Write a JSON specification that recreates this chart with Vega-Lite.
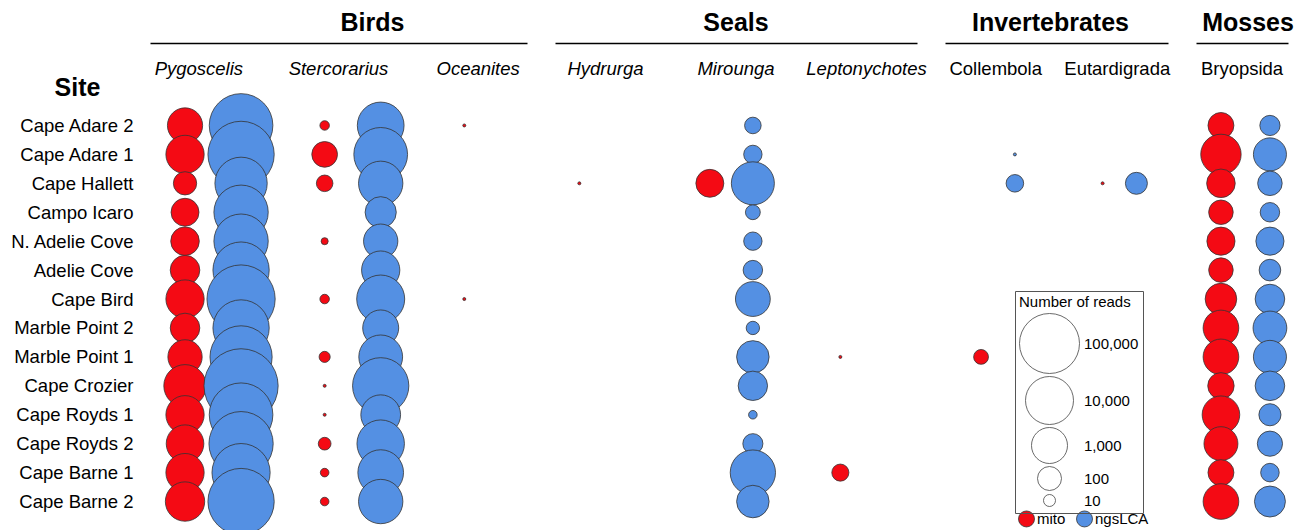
{
  "$schema": "https://vega.github.io/schema/vega-lite/v6.json",
  "background": "white",
  "padding": {"left": 9, "top": 11, "right": 0, "bottom": 0},
  "bounds": "flush",
  "config": {
    "font": "Liberation Sans",
    "view": {"stroke": null},
    "concat": {"spacing": 28},
    "title": {"fontSize": 25, "fontWeight": "bold", "color": "black", "offset": 7, "anchor": "middle"},
    "axisX": {"orient": "top", "offset": 68, "title": null, "domainColor": "black", "domainWidth": 1.5, "ticks": false, "labelPadding": -25, "labelBaseline": "middle", "labelFontSize": 18.5, "labelColor": "black", "labelAngle": 0, "grid": false},
    "circle": {"opacity": 1, "stroke": "#333", "strokeWidth": 0.8}
  },
  "datasets": {
    "reads": [
      {"site": "Cape Adare 2", "group": "Birds", "taxon": "Pygoscelis", "source": "mito", "reads": 830},
      {"site": "Cape Adare 2", "group": "Birds", "taxon": "Pygoscelis", "source": "ngsLCA", "reads": 192000},
      {"site": "Cape Adare 2", "group": "Birds", "taxon": "Stercorarius", "source": "mito", "reads": 4},
      {"site": "Cape Adare 2", "group": "Birds", "taxon": "Stercorarius", "source": "ngsLCA", "reads": 7640},
      {"site": "Cape Adare 2", "group": "Birds", "taxon": "Oceanites", "source": "mito", "reads": 1},
      {"site": "Cape Adare 2", "group": "Seals", "taxon": "Mirounga", "source": "ngsLCA", "reads": 20},
      {"site": "Cape Adare 2", "group": "Mosses", "taxon": "Bryopsida", "source": "mito", "reads": 136},
      {"site": "Cape Adare 2", "group": "Mosses", "taxon": "Bryopsida", "source": "ngsLCA", "reads": 41},

      {"site": "Cape Adare 1", "group": "Birds", "taxon": "Pygoscelis", "source": "mito", "reads": 1470},
      {"site": "Cape Adare 1", "group": "Birds", "taxon": "Pygoscelis", "source": "ngsLCA", "reads": 316000},
      {"site": "Cape Adare 1", "group": "Birds", "taxon": "Stercorarius", "source": "mito", "reads": 131},
      {"site": "Cape Adare 1", "group": "Birds", "taxon": "Stercorarius", "source": "ngsLCA", "reads": 28200},
      {"site": "Cape Adare 1", "group": "Seals", "taxon": "Mirounga", "source": "ngsLCA", "reads": 28},
      {"site": "Cape Adare 1", "group": "Invertebrates", "taxon": "Collembola", "source": "ngsLCA", "reads": 1},
      {"site": "Cape Adare 1", "group": "Mosses", "taxon": "Bryopsida", "source": "mito", "reads": 2150},
      {"site": "Cape Adare 1", "group": "Mosses", "taxon": "Bryopsida", "source": "ngsLCA", "reads": 521},

      {"site": "Cape Hallett", "group": "Birds", "taxon": "Pygoscelis", "source": "mito", "reads": 83},
      {"site": "Cape Hallett", "group": "Birds", "taxon": "Pygoscelis", "source": "ngsLCA", "reads": 21500},
      {"site": "Cape Hallett", "group": "Birds", "taxon": "Stercorarius", "source": "mito", "reads": 20},
      {"site": "Cape Hallett", "group": "Birds", "taxon": "Stercorarius", "source": "ngsLCA", "reads": 4640},
      {"site": "Cape Hallett", "group": "Seals", "taxon": "Hydrurga", "source": "mito", "reads": 1},
      {"site": "Cape Hallett", "group": "Seals", "taxon": "Mirounga", "source": "mito", "reads": 192},
      {"site": "Cape Hallett", "group": "Seals", "taxon": "Mirounga", "source": "ngsLCA", "reads": 3550},
      {"site": "Cape Hallett", "group": "Invertebrates", "taxon": "Collembola", "source": "ngsLCA", "reads": 24},
      {"site": "Cape Hallett", "group": "Invertebrates", "taxon": "Eutardigrada", "source": "mito", "reads": 1},
      {"site": "Cape Hallett", "group": "Invertebrates", "taxon": "Eutardigrada", "source": "ngsLCA", "reads": 61},
      {"site": "Cape Hallett", "group": "Mosses", "taxon": "Bryopsida", "source": "mito", "reads": 215},
      {"site": "Cape Hallett", "group": "Mosses", "taxon": "Bryopsida", "source": "ngsLCA", "reads": 108},

      {"site": "Campo Icaro", "group": "Birds", "taxon": "Pygoscelis", "source": "mito", "reads": 192},
      {"site": "Campo Icaro", "group": "Birds", "taxon": "Pygoscelis", "source": "ngsLCA", "reads": 31600},
      {"site": "Campo Icaro", "group": "Birds", "taxon": "Stercorarius", "source": "ngsLCA", "reads": 355},
      {"site": "Campo Icaro", "group": "Seals", "taxon": "Mirounga", "source": "ngsLCA", "reads": 15},
      {"site": "Campo Icaro", "group": "Mosses", "taxon": "Bryopsida", "source": "mito", "reads": 108},
      {"site": "Campo Icaro", "group": "Mosses", "taxon": "Bryopsida", "source": "ngsLCA", "reads": 35},

      {"site": "N. Adelie Cove", "group": "Birds", "taxon": "Pygoscelis", "source": "mito", "reads": 215},
      {"site": "N. Adelie Cove", "group": "Birds", "taxon": "Pygoscelis", "source": "ngsLCA", "reads": 31600},
      {"site": "N. Adelie Cove", "group": "Birds", "taxon": "Stercorarius", "source": "mito", "reads": 2},
      {"site": "N. Adelie Cove", "group": "Birds", "taxon": "Stercorarius", "source": "ngsLCA", "reads": 681},
      {"site": "N. Adelie Cove", "group": "Seals", "taxon": "Mirounga", "source": "ngsLCA", "reads": 28},
      {"site": "N. Adelie Cove", "group": "Mosses", "taxon": "Bryopsida", "source": "mito", "reads": 200},
      {"site": "N. Adelie Cove", "group": "Mosses", "taxon": "Bryopsida", "source": "ngsLCA", "reads": 200},

      {"site": "Adelie Cove", "group": "Birds", "taxon": "Pygoscelis", "source": "mito", "reads": 261},
      {"site": "Adelie Cove", "group": "Birds", "taxon": "Pygoscelis", "source": "ngsLCA", "reads": 46400},
      {"site": "Adelie Cove", "group": "Birds", "taxon": "Stercorarius", "source": "ngsLCA", "reads": 1470},
      {"site": "Adelie Cove", "group": "Seals", "taxon": "Mirounga", "source": "ngsLCA", "reads": 35},
      {"site": "Adelie Cove", "group": "Mosses", "taxon": "Bryopsida", "source": "mito", "reads": 108},
      {"site": "Adelie Cove", "group": "Mosses", "taxon": "Bryopsida", "source": "ngsLCA", "reads": 56},

      {"site": "Cape Bird", "group": "Birds", "taxon": "Pygoscelis", "source": "mito", "reads": 1470},
      {"site": "Cape Bird", "group": "Birds", "taxon": "Pygoscelis", "source": "ngsLCA", "reads": 464000},
      {"site": "Cape Bird", "group": "Birds", "taxon": "Stercorarius", "source": "mito", "reads": 4},
      {"site": "Cape Bird", "group": "Birds", "taxon": "Stercorarius", "source": "ngsLCA", "reads": 10000},
      {"site": "Cape Bird", "group": "Birds", "taxon": "Oceanites", "source": "mito", "reads": 1},
      {"site": "Cape Bird", "group": "Seals", "taxon": "Mirounga", "source": "ngsLCA", "reads": 764},
      {"site": "Cape Bird", "group": "Mosses", "taxon": "Bryopsida", "source": "mito", "reads": 383},
      {"site": "Cape Bird", "group": "Mosses", "taxon": "Bryopsida", "source": "ngsLCA", "reads": 261},

      {"site": "Marble Point 2", "group": "Birds", "taxon": "Pygoscelis", "source": "mito", "reads": 260},
      {"site": "Marble Point 2", "group": "Birds", "taxon": "Pygoscelis", "source": "ngsLCA", "reads": 46400},
      {"site": "Marble Point 2", "group": "Birds", "taxon": "Stercorarius", "source": "ngsLCA", "reads": 1000},
      {"site": "Marble Point 2", "group": "Seals", "taxon": "Mirounga", "source": "ngsLCA", "reads": 12},
      {"site": "Marble Point 2", "group": "Mosses", "taxon": "Bryopsida", "source": "mito", "reads": 926},
      {"site": "Marble Point 2", "group": "Mosses", "taxon": "Bryopsida", "source": "ngsLCA", "reads": 607},

      {"site": "Marble Point 1", "group": "Birds", "taxon": "Pygoscelis", "source": "mito", "reads": 681},
      {"site": "Marble Point 1", "group": "Birds", "taxon": "Pygoscelis", "source": "ngsLCA", "reads": 147000},
      {"site": "Marble Point 1", "group": "Birds", "taxon": "Stercorarius", "source": "mito", "reads": 7},
      {"site": "Marble Point 1", "group": "Birds", "taxon": "Stercorarius", "source": "ngsLCA", "reads": 4140},
      {"site": "Marble Point 1", "group": "Seals", "taxon": "Mirounga", "source": "ngsLCA", "reads": 464},
      {"site": "Marble Point 1", "group": "Seals", "taxon": "Leptonychotes", "source": "mito", "reads": 1},
      {"site": "Marble Point 1", "group": "Invertebrates", "taxon": "Collembola", "source": "mito", "reads": 15},
      {"site": "Marble Point 1", "group": "Mosses", "taxon": "Bryopsida", "source": "mito", "reads": 926},
      {"site": "Marble Point 1", "group": "Mosses", "taxon": "Bryopsida", "source": "ngsLCA", "reads": 521},

      {"site": "Cape Crozier", "group": "Birds", "taxon": "Pygoscelis", "source": "mito", "reads": 3160},
      {"site": "Cape Crozier", "group": "Birds", "taxon": "Pygoscelis", "source": "ngsLCA", "reads": 1470000},
      {"site": "Cape Crozier", "group": "Birds", "taxon": "Stercorarius", "source": "mito", "reads": 1},
      {"site": "Cape Crozier", "group": "Birds", "taxon": "Stercorarius", "source": "ngsLCA", "reads": 46400},
      {"site": "Cape Crozier", "group": "Seals", "taxon": "Mirounga", "source": "ngsLCA", "reads": 250},
      {"site": "Cape Crozier", "group": "Mosses", "taxon": "Bryopsida", "source": "mito", "reads": 147},
      {"site": "Cape Crozier", "group": "Mosses", "taxon": "Bryopsida", "source": "ngsLCA", "reads": 261},

      {"site": "Cape Royds 1", "group": "Birds", "taxon": "Pygoscelis", "source": "mito", "reads": 1470},
      {"site": "Cape Royds 1", "group": "Birds", "taxon": "Pygoscelis", "source": "ngsLCA", "reads": 192000},
      {"site": "Cape Royds 1", "group": "Birds", "taxon": "Stercorarius", "source": "mito", "reads": 1},
      {"site": "Cape Royds 1", "group": "Birds", "taxon": "Stercorarius", "source": "ngsLCA", "reads": 1920},
      {"site": "Cape Royds 1", "group": "Seals", "taxon": "Mirounga", "source": "ngsLCA", "reads": 3},
      {"site": "Cape Royds 1", "group": "Mosses", "taxon": "Bryopsida", "source": "mito", "reads": 1308},
      {"site": "Cape Royds 1", "group": "Mosses", "taxon": "Bryopsida", "source": "ngsLCA", "reads": 63},

      {"site": "Cape Royds 2", "group": "Birds", "taxon": "Pygoscelis", "source": "mito", "reads": 1310},
      {"site": "Cape Royds 2", "group": "Birds", "taxon": "Pygoscelis", "source": "ngsLCA", "reads": 215000},
      {"site": "Cape Royds 2", "group": "Birds", "taxon": "Stercorarius", "source": "mito", "reads": 11},
      {"site": "Cape Royds 2", "group": "Birds", "taxon": "Stercorarius", "source": "ngsLCA", "reads": 8910},
      {"site": "Cape Royds 2", "group": "Seals", "taxon": "Mirounga", "source": "ngsLCA", "reads": 40},
      {"site": "Cape Royds 2", "group": "Mosses", "taxon": "Bryopsida", "source": "mito", "reads": 631},
      {"site": "Cape Royds 2", "group": "Mosses", "taxon": "Bryopsida", "source": "ngsLCA", "reads": 121},

      {"site": "Cape Barne 1", "group": "Birds", "taxon": "Pygoscelis", "source": "mito", "reads": 1470},
      {"site": "Cape Barne 1", "group": "Birds", "taxon": "Pygoscelis", "source": "ngsLCA", "reads": 68100},
      {"site": "Cape Barne 1", "group": "Birds", "taxon": "Stercorarius", "source": "mito", "reads": 3},
      {"site": "Cape Barne 1", "group": "Birds", "taxon": "Stercorarius", "source": "ngsLCA", "reads": 6070},
      {"site": "Cape Barne 1", "group": "Seals", "taxon": "Mirounga", "source": "ngsLCA", "reads": 5620},
      {"site": "Cape Barne 1", "group": "Seals", "taxon": "Leptonychotes", "source": "mito", "reads": 22},
      {"site": "Cape Barne 1", "group": "Mosses", "taxon": "Bryopsida", "source": "mito", "reads": 136},
      {"site": "Cape Barne 1", "group": "Mosses", "taxon": "Bryopsida", "source": "ngsLCA", "reads": 29},

      {"site": "Cape Barne 2", "group": "Birds", "taxon": "Pygoscelis", "source": "mito", "reads": 1780},
      {"site": "Cape Barne 2", "group": "Birds", "taxon": "Pygoscelis", "source": "ngsLCA", "reads": 316000},
      {"site": "Cape Barne 2", "group": "Birds", "taxon": "Stercorarius", "source": "mito", "reads": 3},
      {"site": "Cape Barne 2", "group": "Birds", "taxon": "Stercorarius", "source": "ngsLCA", "reads": 4640},
      {"site": "Cape Barne 2", "group": "Seals", "taxon": "Mirounga", "source": "ngsLCA", "reads": 464},
      {"site": "Cape Barne 2", "group": "Mosses", "taxon": "Bryopsida", "source": "mito", "reads": 926},
      {"site": "Cape Barne 2", "group": "Mosses", "taxon": "Bryopsida", "source": "ngsLCA", "reads": 341}
    ]
  },
  "resolve": {"scale": {"size": "shared", "color": "shared", "x": "independent", "xOffset": "independent"}, "legend": {"size": "shared", "color": "shared"}},
  "hconcat": [
    {
      "title": {"text": "Birds", "dx": 34},
      "width": 377,
      "height": 405,
      "data": {"name": "reads"},
      "transform": [{"filter": "datum.group === 'Birds'"}],
      "mark": "circle",
      "encoding": {
        "x": {"field": "taxon", "type": "nominal", "scale": {"type": "band", "domain": ["Pygoscelis", "Stercorarius", "Oceanites"], "paddingInner": 0.3, "paddingOuter": 0}, "axis": {"labelFontStyle": "italic"}},
        "xOffset": {"field": "source", "type": "nominal", "scale": {"domain": ["mito", "ngsLCA"], "padding": 0.372, "align": 0.84}},
        "y": {"field": "site", "type": "nominal", "scale": {"type": "point", "padding": 0.5, "domain": ["Cape Adare 2", "Cape Adare 1", "Cape Hallett", "Campo Icaro", "N. Adelie Cove", "Adelie Cove", "Cape Bird", "Marble Point 2", "Marble Point 1", "Cape Crozier", "Cape Royds 1", "Cape Royds 2", "Cape Barne 1", "Cape Barne 2"]},
          "axis": {"title": "Site", "titleAngle": 0, "titleFontSize": 25, "titleFontWeight": "bold", "titleColor": "black", "titleX": -73, "titleY": -24, "titleAlign": "center", "titleBaseline": "middle", "labelFontSize": 18.5, "labelColor": "black", "labelPadding": 17, "ticks": false, "domain": false, "grid": false}},
        "size": {"field": "reads", "type": "quantitative", "scale": {"type": "log", "zero": false, "domain": [1, 10, 100, 1000, 10000, 100000, 1000000, 10000000], "range": [9, 144, 576, 1296, 2304, 3600, 5184, 7056]},
          "legend": {"orient": "none", "legendX": 865, "legendY": 180, "title": "Number of reads", "values": [100000, 10000, 1000, 100, 10], "format": ",", "direction": "vertical", "symbolFillColor": "white", "symbolStrokeColor": "#444", "symbolStrokeWidth": 1, "symbolOpacity": 1, "strokeColor": "#555", "padding": 4, "titleFontSize": 15, "titleFontWeight": "normal", "titleColor": "black", "titlePadding": 3, "labelFontSize": 15, "labelColor": "black", "labelOffset": 4, "rowPadding": -3}},
        "color": {"field": "source", "type": "nominal", "scale": {"domain": ["mito", "ngsLCA"], "range": ["#F40A14", "#5490E3"]},
          "legend": {"orient": "none", "legendX": 868, "legendY": 399, "title": null, "direction": "horizontal", "symbolType": "circle", "symbolSize": 256, "symbolStrokeColor": "#333", "symbolStrokeWidth": 0.8, "labelFontSize": 15, "labelColor": "black", "labelOffset": 2, "columnPadding": 8}}
      }
    },
    {
      "title": "Seals",
      "width": 362,
      "height": 405,
      "data": {"name": "reads"},
      "transform": [{"filter": "datum.group === 'Seals'"}],
      "mark": "circle",
      "encoding": {
        "x": {"field": "taxon", "type": "nominal", "scale": {"type": "band", "domain": ["Hydrurga", "Mirounga", "Leptonychotes"], "paddingInner": 0.226, "paddingOuter": 0}, "axis": {"labelFontStyle": "italic"}},
        "xOffset": {"field": "source", "type": "nominal", "scale": {"domain": ["mito", "ngsLCA"], "padding": 0.674, "align": 0.42}},
        "y": {"field": "site", "type": "nominal", "scale": {"type": "point", "padding": 0.5, "domain": ["Cape Adare 2", "Cape Adare 1", "Cape Hallett", "Campo Icaro", "N. Adelie Cove", "Adelie Cove", "Cape Bird", "Marble Point 2", "Marble Point 1", "Cape Crozier", "Cape Royds 1", "Cape Royds 2", "Cape Barne 1", "Cape Barne 2"]}, "axis": null},
        "size": {"field": "reads", "type": "quantitative", "scale": {"type": "log", "zero": false, "domain": [1, 10, 100, 1000, 10000, 100000, 1000000, 10000000], "range": [9, 144, 576, 1296, 2304, 3600, 5184, 7056]},
          "legend": {"orient": "none", "legendX": 865, "legendY": 180, "title": "Number of reads", "values": [100000, 10000, 1000, 100, 10], "format": ",", "direction": "vertical", "symbolFillColor": "white", "symbolStrokeColor": "#444", "symbolStrokeWidth": 1, "symbolOpacity": 1, "strokeColor": "#555", "padding": 4, "titleFontSize": 15, "titleFontWeight": "normal", "titleColor": "black", "titlePadding": 3, "labelFontSize": 15, "labelColor": "black", "labelOffset": 4, "rowPadding": -3}},
        "color": {"field": "source", "type": "nominal", "scale": {"domain": ["mito", "ngsLCA"], "range": ["#F40A14", "#5490E3"]},
          "legend": {"orient": "none", "legendX": 868, "legendY": 399, "title": null, "direction": "horizontal", "symbolType": "circle", "symbolSize": 256, "symbolStrokeColor": "#333", "symbolStrokeWidth": 0.8, "labelFontSize": 15, "labelColor": "black", "labelOffset": 2, "columnPadding": 8}}
      }
    },
    {
      "title": {"text": "Invertebrates", "dx": -6},
      "width": 223,
      "height": 405,
      "data": {"name": "reads"},
      "transform": [{"filter": "datum.group === 'Invertebrates'"}],
      "mark": "circle",
      "encoding": {
        "x": {"field": "taxon", "type": "nominal", "scale": {"type": "band", "domain": ["Collembola", "Eutardigrada"], "paddingInner": 0.165, "paddingOuter": 0}, "axis": {"labelFontStyle": "normal"}},
        "xOffset": {"field": "source", "type": "nominal", "scale": {"domain": ["mito", "ngsLCA"], "padding": 1.01, "align": 0.533}},
        "y": {"field": "site", "type": "nominal", "scale": {"type": "point", "padding": 0.5, "domain": ["Cape Adare 2", "Cape Adare 1", "Cape Hallett", "Campo Icaro", "N. Adelie Cove", "Adelie Cove", "Cape Bird", "Marble Point 2", "Marble Point 1", "Cape Crozier", "Cape Royds 1", "Cape Royds 2", "Cape Barne 1", "Cape Barne 2"]}, "axis": null},
        "size": {"field": "reads", "type": "quantitative", "scale": {"type": "log", "zero": false, "domain": [1, 10, 100, 1000, 10000, 100000, 1000000, 10000000], "range": [9, 144, 576, 1296, 2304, 3600, 5184, 7056]},
          "legend": {"orient": "none", "legendX": 865, "legendY": 180, "title": "Number of reads", "values": [100000, 10000, 1000, 100, 10], "format": ",", "direction": "vertical", "symbolFillColor": "white", "symbolStrokeColor": "#444", "symbolStrokeWidth": 1, "symbolOpacity": 1, "strokeColor": "#555", "padding": 4, "titleFontSize": 15, "titleFontWeight": "normal", "titleColor": "black", "titlePadding": 3, "labelFontSize": 15, "labelColor": "black", "labelOffset": 4, "rowPadding": -3}},
        "color": {"field": "source", "type": "nominal", "scale": {"domain": ["mito", "ngsLCA"], "range": ["#F40A14", "#5490E3"]},
          "legend": {"orient": "none", "legendX": 868, "legendY": 399, "title": null, "direction": "horizontal", "symbolType": "circle", "symbolSize": 256, "symbolStrokeColor": "#333", "symbolStrokeWidth": 0.8, "labelFontSize": 15, "labelColor": "black", "labelOffset": 2, "columnPadding": 8}}
      }
    },
    {
      "title": {"text": "Mosses", "dx": 6},
      "width": 92,
      "height": 405,
      "data": {"name": "reads"},
      "transform": [{"filter": "datum.group === 'Mosses'"}],
      "mark": "circle",
      "encoding": {
        "x": {"field": "taxon", "type": "nominal", "scale": {"type": "band", "domain": ["Bryopsida"], "paddingInner": 0, "paddingOuter": 0}, "axis": {"labelFontStyle": "normal"}},
        "xOffset": {"field": "source", "type": "nominal", "scale": {"domain": ["mito", "ngsLCA"], "padding": 0.439, "align": 0.58}},
        "y": {"field": "site", "type": "nominal", "scale": {"type": "point", "padding": 0.5, "domain": ["Cape Adare 2", "Cape Adare 1", "Cape Hallett", "Campo Icaro", "N. Adelie Cove", "Adelie Cove", "Cape Bird", "Marble Point 2", "Marble Point 1", "Cape Crozier", "Cape Royds 1", "Cape Royds 2", "Cape Barne 1", "Cape Barne 2"]}, "axis": null},
        "size": {"field": "reads", "type": "quantitative", "scale": {"type": "log", "zero": false, "domain": [1, 10, 100, 1000, 10000, 100000, 1000000, 10000000], "range": [9, 144, 576, 1296, 2304, 3600, 5184, 7056]},
          "legend": {"orient": "none", "legendX": 865, "legendY": 180, "title": "Number of reads", "values": [100000, 10000, 1000, 100, 10], "format": ",", "direction": "vertical", "symbolFillColor": "white", "symbolStrokeColor": "#444", "symbolStrokeWidth": 1, "symbolOpacity": 1, "strokeColor": "#555", "padding": 4, "titleFontSize": 15, "titleFontWeight": "normal", "titleColor": "black", "titlePadding": 3, "labelFontSize": 15, "labelColor": "black", "labelOffset": 4, "rowPadding": -3}},
        "color": {"field": "source", "type": "nominal", "scale": {"domain": ["mito", "ngsLCA"], "range": ["#F40A14", "#5490E3"]},
          "legend": {"orient": "none", "legendX": 868, "legendY": 399, "title": null, "direction": "horizontal", "symbolType": "circle", "symbolSize": 256, "symbolStrokeColor": "#333", "symbolStrokeWidth": 0.8, "labelFontSize": 15, "labelColor": "black", "labelOffset": 2, "columnPadding": 8}}
      }
    }
  ]
}
